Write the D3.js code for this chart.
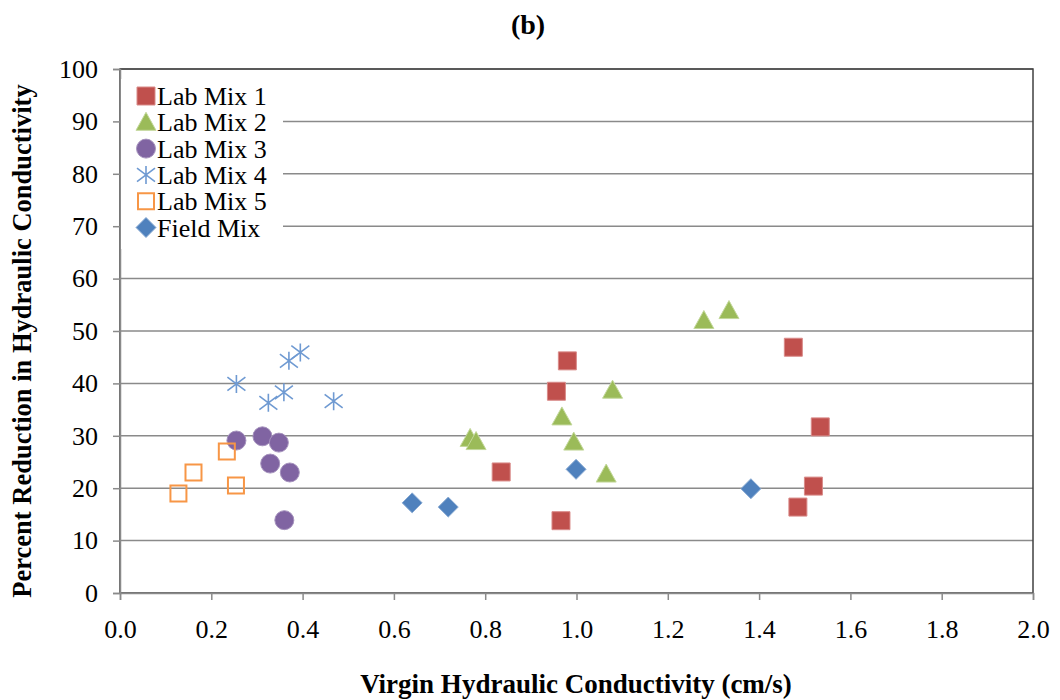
<!DOCTYPE html>
<html><head><meta charset="utf-8">
<script src="https://cdn.jsdelivr.net/npm/d3@7"></script>
<style>body{margin:0;background:#fff;} text{font-family:"Liberation Serif","Times New Roman",serif;fill:#000;}</style>
</head><body><svg id="c" width="1060" height="700"></svg>
<script>
const seriesNames = ["Lab Mix 1","Lab Mix 2","Lab Mix 3","Lab Mix 4","Lab Mix 5","Field Mix"];
const labMix1X = [0.980,0.956,0.835,0.966,1.475,1.534,1.519,1.485];
const labMix1Y = [44.3,38.5,23.1,13.8,46.9,31.7,20.4,16.4];
const labMix2X = [1.279,1.334,1.079,0.968,0.994,1.065,0.767,0.780];
const labMix2Y = [52.0,53.9,38.7,33.6,28.8,22.7,29.5,28.9];
const labMix3X = [0.255,0.312,0.348,0.329,0.372,0.360];
const labMix3Y = [29.1,29.9,28.7,24.7,23.0,13.9];
const labMix4X = [0.255,0.325,0.359,0.370,0.395,0.468];
const labMix4Y = [39.9,36.3,38.3,44.3,45.9,36.6];
const labMix5X = [0.128,0.161,0.234,0.254];
const labMix5Y = [19.0,23.0,27.0,20.5];
const fieldMixX = [0.640,0.719,0.999,1.382];
const fieldMixY = [17.2,16.4,23.6,19.9];
const xTicks = [0,0.2,0.4,0.6,0.8,1.0,1.2,1.4,1.6,1.8,2.0];
const yTicks = [0,10,20,30,40,50,60,70,80,90,100];

const svg = d3.select("#c");
const L=120,R=1033,T=69,B=593;
const x = d3.scaleLinear().domain([0,2]).range([L,R]);
const y = d3.scaleLinear().domain([0,100]).range([B,T]);

// gridlines
svg.append("g").selectAll("line").data(yTicks.slice(1)).join("line")
  .attr("x1",L).attr("x2",R).attr("y1",d=>y(d)).attr("y2",d=>y(d))
  .attr("stroke","#8a8a8a").attr("stroke-width",1.5);
// plot border
svg.append("rect").attr("x",L).attr("y",T).attr("width",R-L).attr("height",B-T)
  .attr("fill","none").attr("stroke","#404040").attr("stroke-width",1.5);

// axes
const xAxis = svg.append("g").attr("transform",`translate(0,${B})`)
  .call(d3.axisBottom(x).tickValues(xTicks).tickFormat(d3.format(".1f")).tickSize(7).tickPadding(20));
const yAxis = svg.append("g").attr("transform",`translate(${L},0)`)
  .call(d3.axisLeft(y).tickValues(yTicks).tickSize(7).tickPadding(15));
[xAxis,yAxis].forEach(a=>{
  a.attr("font-family",null);
  a.select(".domain").attr("stroke","#8a8a8a").attr("stroke-width",1.5);
  a.selectAll(".tick line").attr("stroke","#8a8a8a").attr("stroke-width",1.5);
  a.selectAll("text").attr("font-size",26).attr("fill","#000");
});
xAxis.selectAll("text").attr("dy","0.71em");

// marker shapes
const S=18;
function shape(kind){
  const h=S/2;
  switch(kind){
    case "square": return `M${-h},${-h}h${S}v${S}h${-S}Z`;
    case "tri": return `M0,${-h-1}L${h+1},${h-1}L${-h-1},${h-1}Z`;
    case "diamond": return `M0,${-h-1}L${h+1},0L0,${h+1}L${-h-1},0Z`;
    case "star": return `M0,${-h}V${h}M${-h},${-h*0.75}L${h},${h*0.75}M${-h},${h*0.75}L${h},${-h*0.75}`;
    case "open": return `M${-h+1},${-h+1}h${S-2}v${S-2}h${-(S-2)}Z`;
  }
}
const series = [
  {name:seriesNames[0],xs:labMix1X,ys:labMix1Y,kind:"square",fill:"#C0504D",stroke:"#d98b89",sw:1},
  {name:seriesNames[1],xs:labMix2X,ys:labMix2Y,kind:"tri",fill:"#9BBB59",stroke:"#c3d89b",sw:1},
  {name:seriesNames[2],xs:labMix3X,ys:labMix3Y,kind:"circle",fill:"#8064A2",stroke:"#a592bd",sw:1},
  {name:seriesNames[3],xs:labMix4X,ys:labMix4Y,kind:"star",fill:"none",stroke:"#6f9ad2",sw:1.6},
  {name:seriesNames[4],xs:labMix5X,ys:labMix5Y,kind:"open",fill:"none",stroke:"#F79646",sw:2},
  {name:seriesNames[5],xs:fieldMixX,ys:fieldMixY,kind:"diamond",fill:"#4F81BD",stroke:"#8aabd3",sw:1}
];
function drawMarker(g,s,cx,cy){
  if(s.kind==="circle"){
    g.append("circle").attr("cx",cx).attr("cy",cy).attr("r",9.5)
     .attr("fill",s.fill).attr("stroke",s.stroke).attr("stroke-width",s.sw);
  } else {
    g.append("path").attr("transform",`translate(${cx},${cy})`).attr("d",shape(s.kind))
     .attr("fill",s.fill).attr("stroke",s.stroke).attr("stroke-width",s.sw);
  }
}
const pts = svg.append("g");
series.forEach(s=>{
  s.xs.forEach((v,i)=>drawMarker(pts,s,x(v),y(s.ys[i])));
});

// legend
const lg = svg.append("g");
lg.append("rect").attr("x",L+1).attr("y",79).attr("width",162).attr("height",170).attr("fill","#fff");
series.forEach((s,i)=>{
  const cy = 96 + i*26.3;
  drawMarker(lg,s,146,cy);
  lg.append("text").attr("x",157).attr("y",cy).attr("dy","0.35em").attr("font-size",26).text(s.name);
});

// titles
svg.append("text").attr("x",528).attr("y",34).attr("text-anchor","middle")
  .attr("font-size",28).attr("font-weight","bold").text("(b)");
svg.append("text").attr("x",576).attr("y",693).attr("text-anchor","middle")
  .attr("font-size",27).attr("font-weight","bold").text("Virgin Hydraulic Conductivity (cm/s)");
svg.append("text").attr("transform","translate(31,341) rotate(-90)").attr("text-anchor","middle")
  .attr("font-size",26.5).attr("font-weight","bold").text("Percent Reduction in Hydraulic Conductivity");
</script></body></html>
